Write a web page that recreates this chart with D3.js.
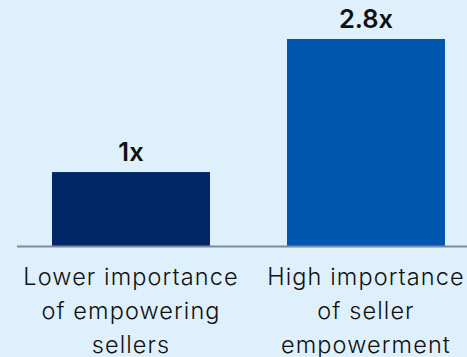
<!DOCTYPE html>
<html>
<head>
<meta charset="utf-8">
<script src="https://cdn.jsdelivr.net/npm/d3@7"></script>
<style>
  html, body { margin: 0; padding: 0; background: #dff0fd; }
  svg { display: block; }
</style>
</head>
<body>
<svg id="chart" width="467" height="357"></svg>
<script>
// datos
const categorias = ["low", "high"];
const valores = [1, 2.8];
const etiquetasValor = ["1x", "2.8x"];
const etiquetasCat = [
  ["Lower importance", "of empowering", "sellers"],
  ["High importance", "of seller", "empowerment"]
];
const colores = ["#002766", "#0057b0"];

const W = 467, H = 357;
const baseY = 246;

const svg = d3.select("#chart");

const x = d3.scaleBand()
  .domain(categorias)
  .range([17, 480])
  .paddingInner(0.3277)
  .paddingOuter(0.149);

const y = d3.scaleLinear()
  .domain([0, 2.8])
  .range([baseY, 39]);

// barras
svg.append("g")
  .selectAll("rect")
  .data(categorias)
  .join("rect")
  .attr("x", d => x(d))
  .attr("y", (d, i) => y(valores[i]))
  .attr("width", x.bandwidth())
  .attr("height", (d, i) => baseY - y(valores[i]))
  .attr("fill", (d, i) => colores[i]);

// eje
svg.append("line")
  .attr("x1", 17).attr("x2", W)
  .attr("y1", baseY + 0.5).attr("y2", baseY + 0.5)
  .attr("stroke", "#7d8aa3")
  .attr("stroke-width", 2);

// valores arriba
svg.append("g")
  .selectAll("text")
  .data(categorias)
  .join("text")
  .attr("x", d => x(d) + x.bandwidth() / 2)
  .attr("y", (d, i) => y(valores[i]) - 11)
  .attr("text-anchor", "middle")
  .style("font-family", "Inter, Lato, sans-serif")
  .style("font-weight", "600")
  .style("font-size", "25.5px")
  .style("fill", "#111")
  .text((d, i) => etiquetasValor[i]);

// etiquetas categorias
const gl = svg.append("g")
  .selectAll("text")
  .data(categorias)
  .join("text")
  .attr("x", d => x(d) + x.bandwidth() / 2)
  .attr("y", 285)
  .attr("text-anchor", "middle")
  .style("font-family", "Inter, sans-serif")
  .style("font-weight", "300")
  .style("font-size", "23.5px")
  .style("letter-spacing", "1.1px")
  .style("fill", "#111");

gl.each(function (d, i) {
  d3.select(this).selectAll("tspan")
    .data(etiquetasCat[i])
    .join("tspan")
    .attr("x", x(d) + x.bandwidth() / 2)
    .attr("dy", (t, j) => j === 0 ? 0 : 34)
    .text(t => t);
});
</script>
</body>
</html>
